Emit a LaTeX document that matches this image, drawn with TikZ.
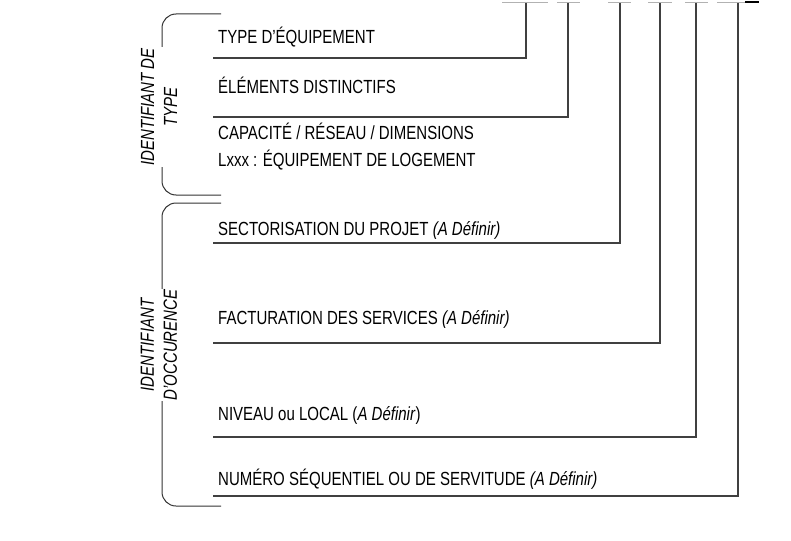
\documentclass[tikz,border=0pt]{standalone}
\usepackage{fontspec}
\setmainfont{Liberation Sans}[FakeStretch=0.79]
\usetikzlibrary{positioning}

\begin{document}
\begin{tikzpicture}[
        x=1pt, y=-1pt,
        every node/.style={font=\fontsize{19}{23}\selectfont, text=black, inner sep=0pt},
        label/.style={anchor=base west},
        side/.style={rotate=90, align=center, fill=white, inner sep=1pt,
            font=\fontsize{19}{23}\selectfont\itshape},
        lead/.style={draw=black!75, line width=1.3pt},
        brace/.style={draw=black!80, line width=1pt, rounded corners=14pt},
        stub/.style={draw=black!30, line width=1pt},
    ]
    \useasboundingbox (0,0) rectangle (791,540);

    % stubs of the code boxes above
    \draw[stub] (502,3) -- (548,3);
    \draw[stub] (557,3) -- (580,3);
    \draw[stub] (608,3) -- (631,3);
    \draw[stub] (648,3) -- (672,3);
    \draw[stub] (685,3) -- (708,3);
    \draw[stub] (717,3) -- (745,3);
    \draw[line width=1.5pt] (745,2) -- (759,2);

    % braces
    \draw[brace] (221,14) -- (162,14) -- (162,195) -- (221,195);
    \draw[brace] (221,203) -- (162,203) -- (162,506) -- (221,506);
    \node[side] (idtype) at (159,107) {IDENTIFIANT DE\\TYPE};
    \node[side] (idocc) at (159,345) {IDENTIFIANT\\D'OCCURENCE};

    % labels
    \node[label] (typ) at (218,44) {TYPE D'ÉQUIPEMENT};
    \node[label] (elem) at (218,94) {ÉLÉMENTS DISTINCTIFS};
    \node[label] (cap) at (218,140) {CAPACITÉ / RÉSEAU / DIMENSIONS};
    \node[label] (lxxx) at (218,167) {Lxxx : ÉQUIPEMENT DE LOGEMENT};
    \node[label] (sect) at (218,235) {SECTORISATION DU PROJET \textit{(A Définir)}};
    \node[label] (fact) at (218,324) {FACTURATION DES SERVICES \textit{(A Définir)}};
    \node[label] (niv) at (218,420) {NIVEAU ou LOCAL (\textit{A Définir})};
    \node[label] (num) at (218,485) {NUMÉRO SÉQUENTIEL OU DE SERVITUDE \textit{(A Définir)}};

    % leaders
    \coordinate (uTyp) at (213,58);   \coordinate (tTyp) at (526,3);
    \coordinate (uElem) at (213,117); \coordinate (tElem) at (568,3);
    \coordinate (uSect) at (213,243); \coordinate (tSect) at (620,3);
    \coordinate (uFact) at (213,343); \coordinate (tFact) at (660,3);
    \coordinate (uNiv) at (213,437);  \coordinate (tNiv) at (696,3);
    \coordinate (uNum) at (213,496);  \coordinate (tNum) at (738,3);
    \draw[lead] (uTyp) -| (tTyp);
    \draw[lead] (uElem) -| (tElem);
    \draw[lead] (uSect) -| (tSect);
    \draw[lead] (uFact) -| (tFact);
    \draw[lead] (uNiv) -| (tNiv);
    \draw[lead] (uNum) -| (tNum);
\end{tikzpicture}
\end{document}
